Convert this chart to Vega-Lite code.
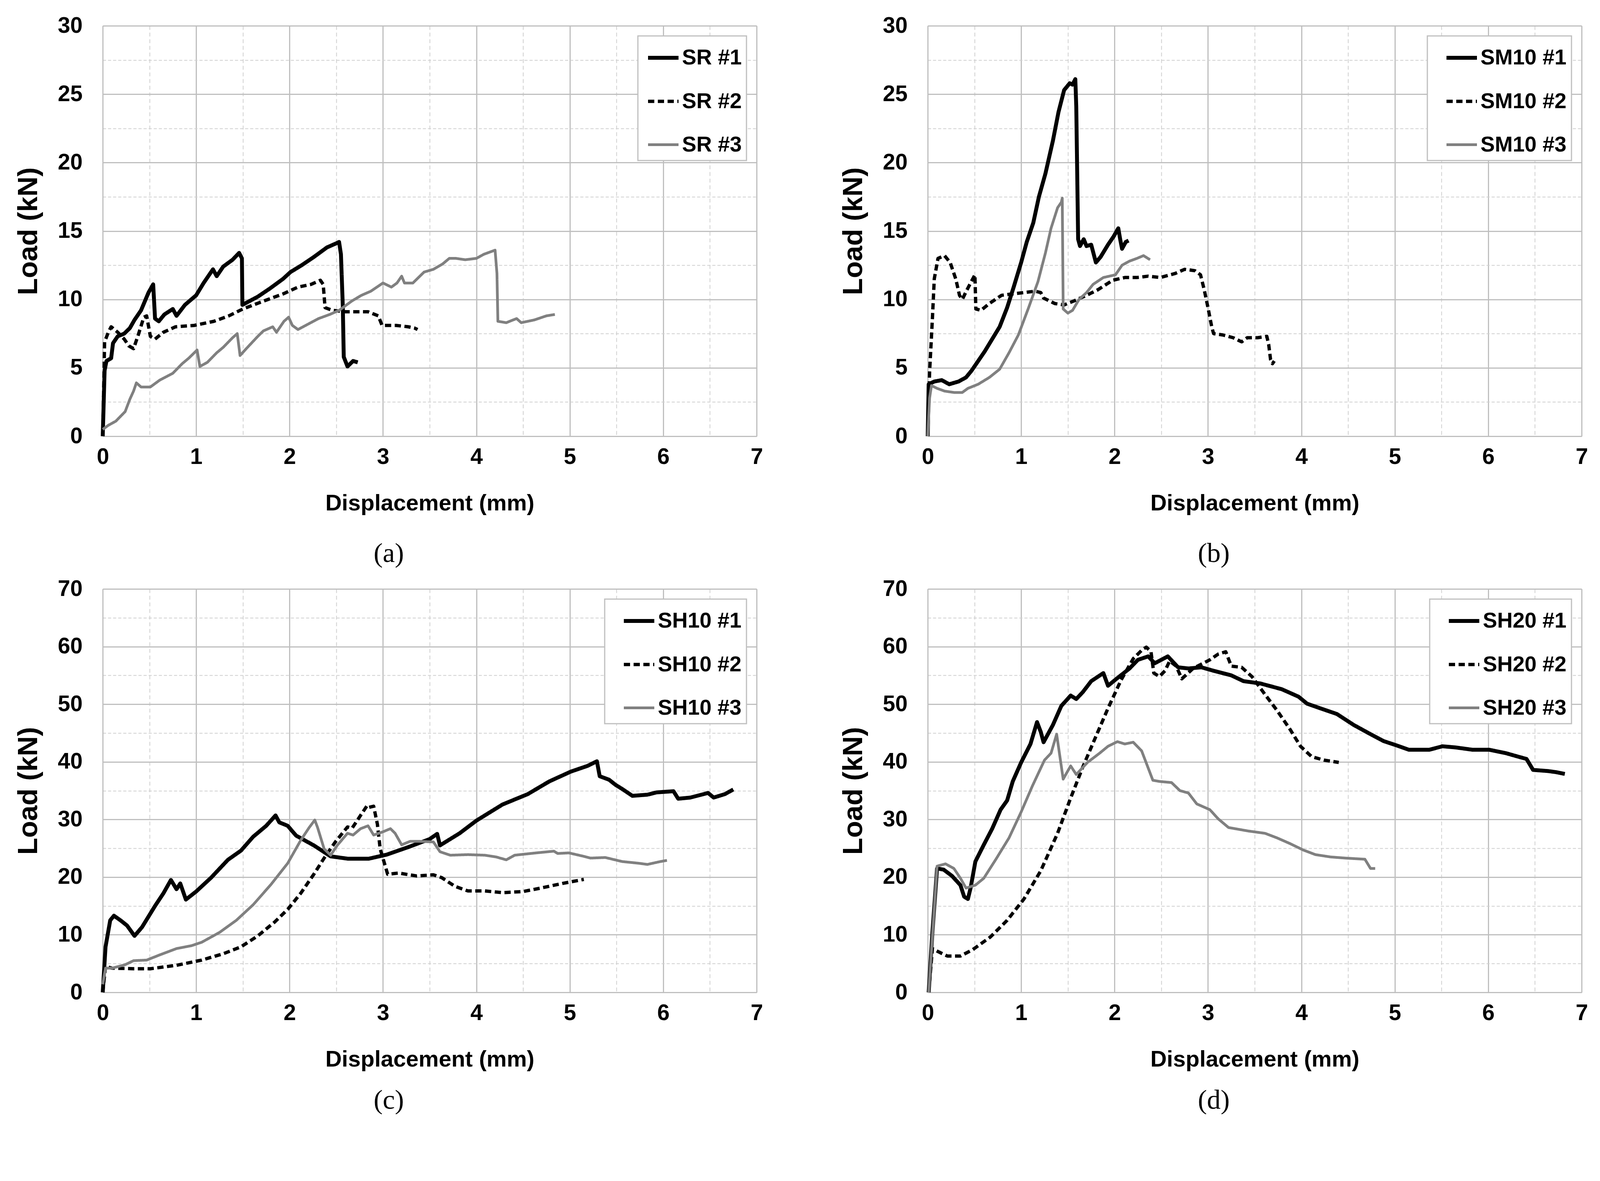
{
  "$schema": "https://vega.github.io/schema/vega-lite/v6.json",
  "background": "white",
  "padding": {"left": 37, "top": 37, "right": 0, "bottom": 0},
  "columns": 2,
  "spacing": {"row": 26, "column": 196},
  "datasets": {
    "a": [
      {"s":"SR #1","x":0,"y":0},{"s":"SR #1","x":0.02,"y":4.8},{"s":"SR #1","x":0.04,"y":5.5},{"s":"SR #1","x":0.09,"y":5.7},{"s":"SR #1","x":0.11,"y":6.8},{"s":"SR #1","x":0.16,"y":7.3},{"s":"SR #1","x":0.23,"y":7.5},{"s":"SR #1","x":0.29,"y":7.9},{"s":"SR #1","x":0.34,"y":8.5},{"s":"SR #1","x":0.41,"y":9.2},{"s":"SR #1","x":0.49,"y":10.5},{"s":"SR #1","x":0.54,"y":11.1},{"s":"SR #1","x":0.56,"y":8.6},{"s":"SR #1","x":0.6,"y":8.4},{"s":"SR #1","x":0.66,"y":8.9},{"s":"SR #1","x":0.75,"y":9.3},{"s":"SR #1","x":0.79,"y":8.8},{"s":"SR #1","x":0.88,"y":9.6},{"s":"SR #1","x":1.0,"y":10.3},{"s":"SR #1","x":1.08,"y":11.2},{"s":"SR #1","x":1.12,"y":11.6},{"s":"SR #1","x":1.18,"y":12.2},{"s":"SR #1","x":1.22,"y":11.7},{"s":"SR #1","x":1.29,"y":12.4},{"s":"SR #1","x":1.39,"y":12.9},{"s":"SR #1","x":1.46,"y":13.4},{"s":"SR #1","x":1.49,"y":13.0},{"s":"SR #1","x":1.495,"y":9.6},{"s":"SR #1","x":1.55,"y":9.8},{"s":"SR #1","x":1.66,"y":10.2},{"s":"SR #1","x":1.79,"y":10.8},{"s":"SR #1","x":1.93,"y":11.5},{"s":"SR #1","x":2.01,"y":12.0},{"s":"SR #1","x":2.13,"y":12.5},{"s":"SR #1","x":2.26,"y":13.1},{"s":"SR #1","x":2.4,"y":13.8},{"s":"SR #1","x":2.5,"y":14.1},{"s":"SR #1","x":2.53,"y":14.2},{"s":"SR #1","x":2.55,"y":13.3},{"s":"SR #1","x":2.57,"y":9.5},{"s":"SR #1","x":2.58,"y":5.8},{"s":"SR #1","x":2.62,"y":5.1},{"s":"SR #1","x":2.68,"y":5.5},{"s":"SR #1","x":2.73,"y":5.4},
      {"s":"SR #2","x":0,"y":0},{"s":"SR #2","x":0.02,"y":6.9},{"s":"SR #2","x":0.06,"y":7.6},{"s":"SR #2","x":0.09,"y":8.0},{"s":"SR #2","x":0.16,"y":7.6},{"s":"SR #2","x":0.23,"y":7.1},{"s":"SR #2","x":0.28,"y":6.6},{"s":"SR #2","x":0.33,"y":6.4},{"s":"SR #2","x":0.38,"y":7.4},{"s":"SR #2","x":0.44,"y":8.7},{"s":"SR #2","x":0.47,"y":8.8},{"s":"SR #2","x":0.51,"y":7.3},{"s":"SR #2","x":0.56,"y":7.1},{"s":"SR #2","x":0.65,"y":7.6},{"s":"SR #2","x":0.78,"y":8.0},{"s":"SR #2","x":0.98,"y":8.1},{"s":"SR #2","x":1.19,"y":8.4},{"s":"SR #2","x":1.35,"y":8.8},{"s":"SR #2","x":1.5,"y":9.3},{"s":"SR #2","x":1.69,"y":9.8},{"s":"SR #2","x":1.93,"y":10.4},{"s":"SR #2","x":2.09,"y":10.9},{"s":"SR #2","x":2.23,"y":11.1},{"s":"SR #2","x":2.33,"y":11.4},{"s":"SR #2","x":2.36,"y":11.1},{"s":"SR #2","x":2.38,"y":9.4},{"s":"SR #2","x":2.46,"y":9.2},{"s":"SR #2","x":2.6,"y":9.1},{"s":"SR #2","x":2.84,"y":9.1},{"s":"SR #2","x":2.95,"y":8.8},{"s":"SR #2","x":2.99,"y":8.1},{"s":"SR #2","x":3.14,"y":8.1},{"s":"SR #2","x":3.27,"y":8.0},{"s":"SR #2","x":3.34,"y":7.9},{"s":"SR #2","x":3.37,"y":7.8},
      {"s":"SR #3","x":0,"y":0.5},{"s":"SR #3","x":0.06,"y":0.8},{"s":"SR #3","x":0.14,"y":1.1},{"s":"SR #3","x":0.24,"y":1.8},{"s":"SR #3","x":0.29,"y":2.7},{"s":"SR #3","x":0.33,"y":3.3},{"s":"SR #3","x":0.36,"y":3.9},{"s":"SR #3","x":0.41,"y":3.6},{"s":"SR #3","x":0.51,"y":3.6},{"s":"SR #3","x":0.61,"y":4.1},{"s":"SR #3","x":0.75,"y":4.6},{"s":"SR #3","x":0.85,"y":5.3},{"s":"SR #3","x":0.92,"y":5.7},{"s":"SR #3","x":0.98,"y":6.1},{"s":"SR #3","x":1.01,"y":6.3},{"s":"SR #3","x":1.04,"y":5.1},{"s":"SR #3","x":1.12,"y":5.4},{"s":"SR #3","x":1.22,"y":6.1},{"s":"SR #3","x":1.29,"y":6.5},{"s":"SR #3","x":1.39,"y":7.2},{"s":"SR #3","x":1.44,"y":7.5},{"s":"SR #3","x":1.47,"y":5.9},{"s":"SR #3","x":1.55,"y":6.5},{"s":"SR #3","x":1.66,"y":7.3},{"s":"SR #3","x":1.72,"y":7.7},{"s":"SR #3","x":1.82,"y":8.0},{"s":"SR #3","x":1.86,"y":7.6},{"s":"SR #3","x":1.94,"y":8.4},{"s":"SR #3","x":1.99,"y":8.7},{"s":"SR #3","x":2.03,"y":8.1},{"s":"SR #3","x":2.09,"y":7.8},{"s":"SR #3","x":2.2,"y":8.2},{"s":"SR #3","x":2.31,"y":8.6},{"s":"SR #3","x":2.43,"y":8.9},{"s":"SR #3","x":2.53,"y":9.2},{"s":"SR #3","x":2.67,"y":9.9},{"s":"SR #3","x":2.77,"y":10.3},{"s":"SR #3","x":2.87,"y":10.6},{"s":"SR #3","x":3.0,"y":11.2},{"s":"SR #3","x":3.09,"y":10.9},{"s":"SR #3","x":3.15,"y":11.2},{"s":"SR #3","x":3.2,"y":11.7},{"s":"SR #3","x":3.23,"y":11.2},{"s":"SR #3","x":3.32,"y":11.2},{"s":"SR #3","x":3.44,"y":12.0},{"s":"SR #3","x":3.54,"y":12.2},{"s":"SR #3","x":3.64,"y":12.6},{"s":"SR #3","x":3.71,"y":13.0},{"s":"SR #3","x":3.78,"y":13.0},{"s":"SR #3","x":3.88,"y":12.9},{"s":"SR #3","x":4.0,"y":13.0},{"s":"SR #3","x":4.08,"y":13.3},{"s":"SR #3","x":4.2,"y":13.6},{"s":"SR #3","x":4.22,"y":11.9},{"s":"SR #3","x":4.23,"y":8.4},{"s":"SR #3","x":4.32,"y":8.3},{"s":"SR #3","x":4.43,"y":8.6},{"s":"SR #3","x":4.48,"y":8.3},{"s":"SR #3","x":4.62,"y":8.5},{"s":"SR #3","x":4.75,"y":8.8},{"s":"SR #3","x":4.84,"y":8.9}
    ],
    "b": [
      {"s":"SM10 #1","x":0.0,"y":0},{"s":"SM10 #1","x":0.01,"y":3.8},{"s":"SM10 #1","x":0.07,"y":4.0},{"s":"SM10 #1","x":0.15,"y":4.1},{"s":"SM10 #1","x":0.23,"y":3.8},{"s":"SM10 #1","x":0.33,"y":4.0},{"s":"SM10 #1","x":0.41,"y":4.3},{"s":"SM10 #1","x":0.47,"y":4.8},{"s":"SM10 #1","x":0.54,"y":5.5},{"s":"SM10 #1","x":0.61,"y":6.2},{"s":"SM10 #1","x":0.69,"y":7.1},{"s":"SM10 #1","x":0.77,"y":8.0},{"s":"SM10 #1","x":0.85,"y":9.4},{"s":"SM10 #1","x":0.92,"y":10.9},{"s":"SM10 #1","x":1.0,"y":12.7},{"s":"SM10 #1","x":1.06,"y":14.2},{"s":"SM10 #1","x":1.13,"y":15.6},{"s":"SM10 #1","x":1.19,"y":17.5},{"s":"SM10 #1","x":1.26,"y":19.2},{"s":"SM10 #1","x":1.34,"y":21.6},{"s":"SM10 #1","x":1.4,"y":23.7},{"s":"SM10 #1","x":1.46,"y":25.3},{"s":"SM10 #1","x":1.52,"y":25.8},{"s":"SM10 #1","x":1.55,"y":25.7},{"s":"SM10 #1","x":1.58,"y":26.1},{"s":"SM10 #1","x":1.59,"y":24.1},{"s":"SM10 #1","x":1.61,"y":14.4},{"s":"SM10 #1","x":1.63,"y":13.9},{"s":"SM10 #1","x":1.67,"y":14.4},{"s":"SM10 #1","x":1.7,"y":13.9},{"s":"SM10 #1","x":1.75,"y":14.0},{"s":"SM10 #1","x":1.8,"y":12.7},{"s":"SM10 #1","x":1.85,"y":13.1},{"s":"SM10 #1","x":1.93,"y":14.0},{"s":"SM10 #1","x":1.99,"y":14.6},{"s":"SM10 #1","x":2.04,"y":15.2},{"s":"SM10 #1","x":2.06,"y":14.4},{"s":"SM10 #1","x":2.08,"y":13.7},{"s":"SM10 #1","x":2.12,"y":14.2},{"s":"SM10 #1","x":2.15,"y":14.3},
      {"s":"SM10 #2","x":0,"y":0},{"s":"SM10 #2","x":0.02,"y":4.7},{"s":"SM10 #2","x":0.05,"y":8.6},{"s":"SM10 #2","x":0.07,"y":11.5},{"s":"SM10 #2","x":0.11,"y":13.0},{"s":"SM10 #2","x":0.18,"y":13.2},{"s":"SM10 #2","x":0.24,"y":12.7},{"s":"SM10 #2","x":0.3,"y":11.5},{"s":"SM10 #2","x":0.34,"y":10.3},{"s":"SM10 #2","x":0.37,"y":10.0},{"s":"SM10 #2","x":0.42,"y":10.7},{"s":"SM10 #2","x":0.505,"y":11.8},{"s":"SM10 #2","x":0.515,"y":9.3},{"s":"SM10 #2","x":0.57,"y":9.2},{"s":"SM10 #2","x":0.66,"y":9.7},{"s":"SM10 #2","x":0.79,"y":10.3},{"s":"SM10 #2","x":0.9,"y":10.4},{"s":"SM10 #2","x":1.03,"y":10.5},{"s":"SM10 #2","x":1.15,"y":10.6},{"s":"SM10 #2","x":1.21,"y":10.5},{"s":"SM10 #2","x":1.24,"y":10.1},{"s":"SM10 #2","x":1.36,"y":9.7},{"s":"SM10 #2","x":1.46,"y":9.6},{"s":"SM10 #2","x":1.57,"y":9.9},{"s":"SM10 #2","x":1.7,"y":10.3},{"s":"SM10 #2","x":1.82,"y":10.7},{"s":"SM10 #2","x":1.98,"y":11.4},{"s":"SM10 #2","x":2.11,"y":11.6},{"s":"SM10 #2","x":2.24,"y":11.6},{"s":"SM10 #2","x":2.36,"y":11.7},{"s":"SM10 #2","x":2.49,"y":11.6},{"s":"SM10 #2","x":2.65,"y":11.9},{"s":"SM10 #2","x":2.75,"y":12.2},{"s":"SM10 #2","x":2.86,"y":12.1},{"s":"SM10 #2","x":2.92,"y":11.8},{"s":"SM10 #2","x":2.96,"y":10.7},{"s":"SM10 #2","x":3.0,"y":9.4},{"s":"SM10 #2","x":3.04,"y":8.0},{"s":"SM10 #2","x":3.06,"y":7.5},{"s":"SM10 #2","x":3.16,"y":7.4},{"s":"SM10 #2","x":3.27,"y":7.2},{"s":"SM10 #2","x":3.36,"y":6.9},{"s":"SM10 #2","x":3.42,"y":7.2},{"s":"SM10 #2","x":3.53,"y":7.2},{"s":"SM10 #2","x":3.63,"y":7.3},{"s":"SM10 #2","x":3.65,"y":6.7},{"s":"SM10 #2","x":3.67,"y":5.6},{"s":"SM10 #2","x":3.69,"y":5.3},{"s":"SM10 #2","x":3.71,"y":5.5},
      {"s":"SM10 #3","x":0,"y":0},{"s":"SM10 #3","x":0.02,"y":2.8},{"s":"SM10 #3","x":0.04,"y":3.7},{"s":"SM10 #3","x":0.1,"y":3.5},{"s":"SM10 #3","x":0.18,"y":3.3},{"s":"SM10 #3","x":0.28,"y":3.2},{"s":"SM10 #3","x":0.37,"y":3.2},{"s":"SM10 #3","x":0.43,"y":3.5},{"s":"SM10 #3","x":0.54,"y":3.8},{"s":"SM10 #3","x":0.66,"y":4.3},{"s":"SM10 #3","x":0.77,"y":4.9},{"s":"SM10 #3","x":0.87,"y":6.1},{"s":"SM10 #3","x":0.97,"y":7.4},{"s":"SM10 #3","x":1.08,"y":9.4},{"s":"SM10 #3","x":1.18,"y":11.3},{"s":"SM10 #3","x":1.26,"y":13.4},{"s":"SM10 #3","x":1.32,"y":15.2},{"s":"SM10 #3","x":1.39,"y":16.7},{"s":"SM10 #3","x":1.43,"y":17.1},{"s":"SM10 #3","x":1.44,"y":17.4},{"s":"SM10 #3","x":1.45,"y":9.3},{"s":"SM10 #3","x":1.5,"y":9.0},{"s":"SM10 #3","x":1.55,"y":9.2},{"s":"SM10 #3","x":1.62,"y":10.0},{"s":"SM10 #3","x":1.7,"y":10.5},{"s":"SM10 #3","x":1.77,"y":11.1},{"s":"SM10 #3","x":1.88,"y":11.6},{"s":"SM10 #3","x":2.01,"y":11.8},{"s":"SM10 #3","x":2.08,"y":12.5},{"s":"SM10 #3","x":2.16,"y":12.8},{"s":"SM10 #3","x":2.24,"y":13.0},{"s":"SM10 #3","x":2.31,"y":13.2},{"s":"SM10 #3","x":2.38,"y":12.9}
    ],
    "c": [
      {"s":"SH10 #1","x":0,"y":0},{"s":"SH10 #1","x":0.03,"y":7.9},{"s":"SH10 #1","x":0.08,"y":12.5},{"s":"SH10 #1","x":0.12,"y":13.3},{"s":"SH10 #1","x":0.19,"y":12.5},{"s":"SH10 #1","x":0.26,"y":11.6},{"s":"SH10 #1","x":0.34,"y":9.8},{"s":"SH10 #1","x":0.42,"y":11.3},{"s":"SH10 #1","x":0.56,"y":15.0},{"s":"SH10 #1","x":0.65,"y":17.2},{"s":"SH10 #1","x":0.73,"y":19.5},{"s":"SH10 #1","x":0.79,"y":17.9},{"s":"SH10 #1","x":0.83,"y":18.9},{"s":"SH10 #1","x":0.89,"y":16.1},{"s":"SH10 #1","x":1.0,"y":17.5},{"s":"SH10 #1","x":1.16,"y":19.9},{"s":"SH10 #1","x":1.34,"y":23.0},{"s":"SH10 #1","x":1.48,"y":24.6},{"s":"SH10 #1","x":1.61,"y":27.0},{"s":"SH10 #1","x":1.75,"y":28.9},{"s":"SH10 #1","x":1.85,"y":30.7},{"s":"SH10 #1","x":1.89,"y":29.5},{"s":"SH10 #1","x":1.98,"y":28.9},{"s":"SH10 #1","x":2.07,"y":27.2},{"s":"SH10 #1","x":2.26,"y":25.5},{"s":"SH10 #1","x":2.44,"y":23.6},{"s":"SH10 #1","x":2.62,"y":23.2},{"s":"SH10 #1","x":2.85,"y":23.2},{"s":"SH10 #1","x":3.04,"y":23.9},{"s":"SH10 #1","x":3.27,"y":25.2},{"s":"SH10 #1","x":3.5,"y":26.6},{"s":"SH10 #1","x":3.58,"y":27.5},{"s":"SH10 #1","x":3.61,"y":25.5},{"s":"SH10 #1","x":3.82,"y":27.6},{"s":"SH10 #1","x":4.0,"y":29.8},{"s":"SH10 #1","x":4.28,"y":32.6},{"s":"SH10 #1","x":4.55,"y":34.4},{"s":"SH10 #1","x":4.78,"y":36.6},{"s":"SH10 #1","x":5.01,"y":38.3},{"s":"SH10 #1","x":5.19,"y":39.3},{"s":"SH10 #1","x":5.29,"y":40.1},{"s":"SH10 #1","x":5.32,"y":37.5},{"s":"SH10 #1","x":5.42,"y":36.9},{"s":"SH10 #1","x":5.49,"y":36.0},{"s":"SH10 #1","x":5.56,"y":35.3},{"s":"SH10 #1","x":5.67,"y":34.1},{"s":"SH10 #1","x":5.83,"y":34.3},{"s":"SH10 #1","x":5.93,"y":34.7},{"s":"SH10 #1","x":6.11,"y":34.9},{"s":"SH10 #1","x":6.16,"y":33.6},{"s":"SH10 #1","x":6.29,"y":33.8},{"s":"SH10 #1","x":6.48,"y":34.6},{"s":"SH10 #1","x":6.54,"y":33.8},{"s":"SH10 #1","x":6.66,"y":34.4},{"s":"SH10 #1","x":6.75,"y":35.2},
      {"s":"SH10 #2","x":0,"y":0},{"s":"SH10 #2","x":0.03,"y":4.5},{"s":"SH10 #2","x":0.1,"y":4.2},{"s":"SH10 #2","x":0.33,"y":4.1},{"s":"SH10 #2","x":0.51,"y":4.1},{"s":"SH10 #2","x":0.79,"y":4.7},{"s":"SH10 #2","x":1.06,"y":5.6},{"s":"SH10 #2","x":1.29,"y":6.7},{"s":"SH10 #2","x":1.48,"y":7.9},{"s":"SH10 #2","x":1.66,"y":9.8},{"s":"SH10 #2","x":1.84,"y":12.2},{"s":"SH10 #2","x":1.98,"y":14.4},{"s":"SH10 #2","x":2.12,"y":17.2},{"s":"SH10 #2","x":2.26,"y":20.5},{"s":"SH10 #2","x":2.37,"y":23.3},{"s":"SH10 #2","x":2.49,"y":26.1},{"s":"SH10 #2","x":2.58,"y":27.9},{"s":"SH10 #2","x":2.62,"y":28.7},{"s":"SH10 #2","x":2.67,"y":28.5},{"s":"SH10 #2","x":2.76,"y":30.7},{"s":"SH10 #2","x":2.83,"y":32.4},{"s":"SH10 #2","x":2.85,"y":32.1},{"s":"SH10 #2","x":2.9,"y":32.3},{"s":"SH10 #2","x":2.94,"y":29.2},{"s":"SH10 #2","x":2.97,"y":24.9},{"s":"SH10 #2","x":3.01,"y":22.7},{"s":"SH10 #2","x":3.05,"y":20.5},{"s":"SH10 #2","x":3.17,"y":20.7},{"s":"SH10 #2","x":3.36,"y":20.2},{"s":"SH10 #2","x":3.54,"y":20.4},{"s":"SH10 #2","x":3.63,"y":19.9},{"s":"SH10 #2","x":3.77,"y":18.4},{"s":"SH10 #2","x":3.91,"y":17.6},{"s":"SH10 #2","x":4.09,"y":17.6},{"s":"SH10 #2","x":4.28,"y":17.3},{"s":"SH10 #2","x":4.5,"y":17.5},{"s":"SH10 #2","x":4.69,"y":18.1},{"s":"SH10 #2","x":4.92,"y":18.9},{"s":"SH10 #2","x":5.15,"y":19.6},
      {"s":"SH10 #3","x":0,"y":1.4},{"s":"SH10 #3","x":0.03,"y":4.2},{"s":"SH10 #3","x":0.1,"y":4.2},{"s":"SH10 #3","x":0.24,"y":4.8},{"s":"SH10 #3","x":0.33,"y":5.5},{"s":"SH10 #3","x":0.47,"y":5.6},{"s":"SH10 #3","x":0.61,"y":6.5},{"s":"SH10 #3","x":0.79,"y":7.6},{"s":"SH10 #3","x":0.95,"y":8.1},{"s":"SH10 #3","x":1.06,"y":8.7},{"s":"SH10 #3","x":1.25,"y":10.4},{"s":"SH10 #3","x":1.43,"y":12.5},{"s":"SH10 #3","x":1.61,"y":15.2},{"s":"SH10 #3","x":1.8,"y":18.7},{"s":"SH10 #3","x":1.98,"y":22.4},{"s":"SH10 #3","x":2.12,"y":26.4},{"s":"SH10 #3","x":2.21,"y":28.6},{"s":"SH10 #3","x":2.27,"y":29.9},{"s":"SH10 #3","x":2.3,"y":28.6},{"s":"SH10 #3","x":2.37,"y":24.9},{"s":"SH10 #3","x":2.44,"y":23.8},{"s":"SH10 #3","x":2.51,"y":25.5},{"s":"SH10 #3","x":2.62,"y":27.6},{"s":"SH10 #3","x":2.68,"y":27.3},{"s":"SH10 #3","x":2.76,"y":28.4},{"s":"SH10 #3","x":2.84,"y":28.9},{"s":"SH10 #3","x":2.9,"y":27.3},{"s":"SH10 #3","x":2.99,"y":27.8},{"s":"SH10 #3","x":3.08,"y":28.4},{"s":"SH10 #3","x":3.13,"y":27.6},{"s":"SH10 #3","x":3.2,"y":25.6},{"s":"SH10 #3","x":3.29,"y":26.2},{"s":"SH10 #3","x":3.4,"y":26.2},{"s":"SH10 #3","x":3.54,"y":26.1},{"s":"SH10 #3","x":3.61,"y":24.4},{"s":"SH10 #3","x":3.72,"y":23.8},{"s":"SH10 #3","x":3.91,"y":23.9},{"s":"SH10 #3","x":4.09,"y":23.8},{"s":"SH10 #3","x":4.21,"y":23.5},{"s":"SH10 #3","x":4.32,"y":23.0},{"s":"SH10 #3","x":4.41,"y":23.8},{"s":"SH10 #3","x":4.64,"y":24.2},{"s":"SH10 #3","x":4.83,"y":24.5},{"s":"SH10 #3","x":4.87,"y":24.1},{"s":"SH10 #3","x":4.99,"y":24.2},{"s":"SH10 #3","x":5.15,"y":23.6},{"s":"SH10 #3","x":5.22,"y":23.3},{"s":"SH10 #3","x":5.38,"y":23.4},{"s":"SH10 #3","x":5.56,"y":22.7},{"s":"SH10 #3","x":5.74,"y":22.4},{"s":"SH10 #3","x":5.83,"y":22.2},{"s":"SH10 #3","x":5.97,"y":22.7},{"s":"SH10 #3","x":6.04,"y":22.9}
    ],
    "d": [
      {"s":"SH20 #1","x":0.01,"y":0},{"s":"SH20 #1","x":0.05,"y":10.4},{"s":"SH20 #1","x":0.1,"y":21.5},{"s":"SH20 #1","x":0.17,"y":21.3},{"s":"SH20 #1","x":0.26,"y":20.2},{"s":"SH20 #1","x":0.35,"y":18.6},{"s":"SH20 #1","x":0.39,"y":16.6},{"s":"SH20 #1","x":0.43,"y":16.2},{"s":"SH20 #1","x":0.46,"y":18.2},{"s":"SH20 #1","x":0.51,"y":22.7},{"s":"SH20 #1","x":0.6,"y":25.6},{"s":"SH20 #1","x":0.69,"y":28.4},{"s":"SH20 #1","x":0.78,"y":31.7},{"s":"SH20 #1","x":0.85,"y":33.3},{"s":"SH20 #1","x":0.91,"y":36.6},{"s":"SH20 #1","x":1.0,"y":39.9},{"s":"SH20 #1","x":1.1,"y":43.1},{"s":"SH20 #1","x":1.17,"y":46.9},{"s":"SH20 #1","x":1.21,"y":45.2},{"s":"SH20 #1","x":1.24,"y":43.4},{"s":"SH20 #1","x":1.34,"y":46.4},{"s":"SH20 #1","x":1.43,"y":49.7},{"s":"SH20 #1","x":1.53,"y":51.5},{"s":"SH20 #1","x":1.59,"y":50.9},{"s":"SH20 #1","x":1.66,"y":52.1},{"s":"SH20 #1","x":1.75,"y":54.0},{"s":"SH20 #1","x":1.88,"y":55.4},{"s":"SH20 #1","x":1.93,"y":53.2},{"s":"SH20 #1","x":2.02,"y":54.4},{"s":"SH20 #1","x":2.16,"y":56.2},{"s":"SH20 #1","x":2.25,"y":57.7},{"s":"SH20 #1","x":2.36,"y":58.3},{"s":"SH20 #1","x":2.43,"y":57.1},{"s":"SH20 #1","x":2.57,"y":58.3},{"s":"SH20 #1","x":2.68,"y":56.4},{"s":"SH20 #1","x":2.79,"y":56.2},{"s":"SH20 #1","x":2.93,"y":56.4},{"s":"SH20 #1","x":3.06,"y":55.8},{"s":"SH20 #1","x":3.25,"y":55.0},{"s":"SH20 #1","x":3.38,"y":54.0},{"s":"SH20 #1","x":3.56,"y":53.6},{"s":"SH20 #1","x":3.79,"y":52.6},{"s":"SH20 #1","x":3.97,"y":51.3},{"s":"SH20 #1","x":4.06,"y":50.1},{"s":"SH20 #1","x":4.2,"y":49.3},{"s":"SH20 #1","x":4.38,"y":48.3},{"s":"SH20 #1","x":4.56,"y":46.4},{"s":"SH20 #1","x":4.74,"y":44.8},{"s":"SH20 #1","x":4.88,"y":43.6},{"s":"SH20 #1","x":5.01,"y":42.9},{"s":"SH20 #1","x":5.15,"y":42.1},{"s":"SH20 #1","x":5.37,"y":42.1},{"s":"SH20 #1","x":5.51,"y":42.7},{"s":"SH20 #1","x":5.65,"y":42.5},{"s":"SH20 #1","x":5.83,"y":42.1},{"s":"SH20 #1","x":6.01,"y":42.1},{"s":"SH20 #1","x":6.19,"y":41.5},{"s":"SH20 #1","x":6.32,"y":40.9},{"s":"SH20 #1","x":6.41,"y":40.5},{"s":"SH20 #1","x":6.48,"y":38.6},{"s":"SH20 #1","x":6.64,"y":38.4},{"s":"SH20 #1","x":6.73,"y":38.2},{"s":"SH20 #1","x":6.82,"y":37.9},
      {"s":"SH20 #2","x":0.01,"y":0},{"s":"SH20 #2","x":0.05,"y":7.6},{"s":"SH20 #2","x":0.12,"y":7.0},{"s":"SH20 #2","x":0.21,"y":6.3},{"s":"SH20 #2","x":0.35,"y":6.3},{"s":"SH20 #2","x":0.48,"y":7.4},{"s":"SH20 #2","x":0.67,"y":9.6},{"s":"SH20 #2","x":0.85,"y":12.5},{"s":"SH20 #2","x":1.03,"y":16.2},{"s":"SH20 #2","x":1.21,"y":21.1},{"s":"SH20 #2","x":1.39,"y":27.6},{"s":"SH20 #2","x":1.52,"y":33.3},{"s":"SH20 #2","x":1.66,"y":39.1},{"s":"SH20 #2","x":1.8,"y":44.4},{"s":"SH20 #2","x":1.93,"y":49.3},{"s":"SH20 #2","x":2.07,"y":54.2},{"s":"SH20 #2","x":2.2,"y":57.9},{"s":"SH20 #2","x":2.3,"y":59.5},{"s":"SH20 #2","x":2.34,"y":59.9},{"s":"SH20 #2","x":2.39,"y":59.1},{"s":"SH20 #2","x":2.42,"y":55.4},{"s":"SH20 #2","x":2.48,"y":54.8},{"s":"SH20 #2","x":2.54,"y":55.8},{"s":"SH20 #2","x":2.59,"y":57.5},{"s":"SH20 #2","x":2.66,"y":56.6},{"s":"SH20 #2","x":2.72,"y":54.4},{"s":"SH20 #2","x":2.84,"y":56.2},{"s":"SH20 #2","x":3.02,"y":57.7},{"s":"SH20 #2","x":3.11,"y":58.7},{"s":"SH20 #2","x":3.19,"y":59.1},{"s":"SH20 #2","x":3.25,"y":56.6},{"s":"SH20 #2","x":3.36,"y":56.4},{"s":"SH20 #2","x":3.47,"y":54.8},{"s":"SH20 #2","x":3.61,"y":51.7},{"s":"SH20 #2","x":3.74,"y":48.9},{"s":"SH20 #2","x":3.88,"y":45.6},{"s":"SH20 #2","x":3.99,"y":42.7},{"s":"SH20 #2","x":4.11,"y":40.9},{"s":"SH20 #2","x":4.24,"y":40.3},{"s":"SH20 #2","x":4.4,"y":39.9},
      {"s":"SH20 #3","x":0.01,"y":0},{"s":"SH20 #3","x":0.1,"y":21.9},{"s":"SH20 #3","x":0.19,"y":22.3},{"s":"SH20 #3","x":0.28,"y":21.5},{"s":"SH20 #3","x":0.35,"y":19.8},{"s":"SH20 #3","x":0.41,"y":18.1},{"s":"SH20 #3","x":0.51,"y":18.6},{"s":"SH20 #3","x":0.6,"y":19.8},{"s":"SH20 #3","x":0.73,"y":23.1},{"s":"SH20 #3","x":0.87,"y":26.8},{"s":"SH20 #3","x":1.0,"y":31.3},{"s":"SH20 #3","x":1.12,"y":35.8},{"s":"SH20 #3","x":1.25,"y":40.3},{"s":"SH20 #3","x":1.32,"y":41.5},{"s":"SH20 #3","x":1.38,"y":44.8},{"s":"SH20 #3","x":1.45,"y":37.0},{"s":"SH20 #3","x":1.53,"y":39.3},{"s":"SH20 #3","x":1.59,"y":37.8},{"s":"SH20 #3","x":1.71,"y":39.9},{"s":"SH20 #3","x":1.84,"y":41.5},{"s":"SH20 #3","x":1.93,"y":42.7},{"s":"SH20 #3","x":2.03,"y":43.5},{"s":"SH20 #3","x":2.11,"y":43.1},{"s":"SH20 #3","x":2.2,"y":43.4},{"s":"SH20 #3","x":2.29,"y":41.9},{"s":"SH20 #3","x":2.41,"y":36.8},{"s":"SH20 #3","x":2.48,"y":36.6},{"s":"SH20 #3","x":2.61,"y":36.4},{"s":"SH20 #3","x":2.7,"y":35.0},{"s":"SH20 #3","x":2.79,"y":34.6},{"s":"SH20 #3","x":2.88,"y":32.7},{"s":"SH20 #3","x":3.02,"y":31.7},{"s":"SH20 #3","x":3.11,"y":30.1},{"s":"SH20 #3","x":3.22,"y":28.6},{"s":"SH20 #3","x":3.43,"y":28.0},{"s":"SH20 #3","x":3.61,"y":27.6},{"s":"SH20 #3","x":3.74,"y":26.8},{"s":"SH20 #3","x":3.88,"y":25.8},{"s":"SH20 #3","x":4.02,"y":24.7},{"s":"SH20 #3","x":4.15,"y":23.9},{"s":"SH20 #3","x":4.31,"y":23.5},{"s":"SH20 #3","x":4.47,"y":23.3},{"s":"SH20 #3","x":4.68,"y":23.1},{"s":"SH20 #3","x":4.74,"y":21.5},{"s":"SH20 #3","x":4.79,"y":21.5}
    ]
  },
  "concat": [
    {
      "title": {"text": "(a)", "offset": 66},
      "width": 1674, "height": 1051,
      "data": {"name": "a"},
      "mark": {"type": "line", "strokeJoin": "round", "strokeCap": "butt"},
      "encoding": {
        "x": {"field": "x", "type": "quantitative", "title": "Displacement (mm)", "scale": {"domain": [0, 7], "nice": false},
          "axis": {"values": [0,0.5,1,1.5,2,2.5,3,3.5,4,4.5,5,5.5,6,6.5,7], "labelExpr": "datum.value % 1 === 0 ? format(datum.value, 'd') : ''",
            "gridDash": {"condition": {"test": "datum.value % 1 !== 0", "value": [10, 7]}, "value": []},
            "gridColor": {"condition": {"test": "datum.value % 1 !== 0", "value": "#cfcfcf"}, "value": "#bfbfbf"},
            "gridWidth": {"condition": {"test": "datum.value % 1 !== 0", "value": 2}, "value": 3}}},
        "y": {"field": "y", "type": "quantitative", "title": "Load (kN)", "scale": {"domain": [0, 30], "nice": false},
          "axis": {"values": [0,2.5,5,7.5,10,12.5,15,17.5,20,22.5,25,27.5,30], "labelExpr": "datum.value % 5 === 0 ? format(datum.value, 'd') : ''",
            "gridDash": {"condition": {"test": "datum.value % 5 !== 0", "value": [8, 5]}, "value": []},
            "gridColor": {"condition": {"test": "datum.value % 5 !== 0", "value": "#cfcfcf"}, "value": "#bfbfbf"},
            "gridWidth": {"condition": {"test": "datum.value % 5 !== 0", "value": 2}, "value": 3}}},
        "color": {"field": "s", "type": "nominal", "scale": {"domain": ["SR #1", "SR #2", "SR #3"], "range": ["#000000", "#000000", "#808080"]}, "legend": {"symbolOffset": 9}},
        "strokeDash": {"field": "s", "type": "nominal", "scale": {"domain": ["SR #1", "SR #2", "SR #3"], "range": [[1, 0], [16, 9], [1, 0]]}},
        "strokeWidth": {"field": "s", "type": "nominal", "scale": {"domain": ["SR #1", "SR #2", "SR #3"], "range": [10, 7, 4.5]}},
        "order": {"value": null}
      }
    },
    {
      "title": {"text": "(b)", "offset": 66},
      "width": 1674, "height": 1051,
      "data": {"name": "b"},
      "mark": {"type": "line", "strokeJoin": "round", "strokeCap": "butt"},
      "encoding": {
        "x": {"field": "x", "type": "quantitative", "title": "Displacement (mm)", "scale": {"domain": [0, 7], "nice": false},
          "axis": {"values": [0,0.5,1,1.5,2,2.5,3,3.5,4,4.5,5,5.5,6,6.5,7], "labelExpr": "datum.value % 1 === 0 ? format(datum.value, 'd') : ''",
            "gridDash": {"condition": {"test": "datum.value % 1 !== 0", "value": [10, 7]}, "value": []},
            "gridColor": {"condition": {"test": "datum.value % 1 !== 0", "value": "#cfcfcf"}, "value": "#bfbfbf"},
            "gridWidth": {"condition": {"test": "datum.value % 1 !== 0", "value": 2}, "value": 3}}},
        "y": {"field": "y", "type": "quantitative", "title": "Load (kN)", "scale": {"domain": [0, 30], "nice": false},
          "axis": {"values": [0,2.5,5,7.5,10,12.5,15,17.5,20,22.5,25,27.5,30], "labelExpr": "datum.value % 5 === 0 ? format(datum.value, 'd') : ''",
            "gridDash": {"condition": {"test": "datum.value % 5 !== 0", "value": [8, 5]}, "value": []},
            "gridColor": {"condition": {"test": "datum.value % 5 !== 0", "value": "#cfcfcf"}, "value": "#bfbfbf"},
            "gridWidth": {"condition": {"test": "datum.value % 5 !== 0", "value": 2}, "value": 3}}},
        "color": {"field": "s", "type": "nominal", "scale": {"domain": ["SM10 #1", "SM10 #2", "SM10 #3"], "range": ["#000000", "#000000", "#808080"]}, "legend": {"symbolOffset": 32, "labelExpr": "datum.label + '\u00a0\u00a0'"}},
        "strokeDash": {"field": "s", "type": "nominal", "scale": {"domain": ["SM10 #1", "SM10 #2", "SM10 #3"], "range": [[1, 0], [16, 9], [1, 0]]}},
        "strokeWidth": {"field": "s", "type": "nominal", "scale": {"domain": ["SM10 #1", "SM10 #2", "SM10 #3"], "range": [10, 7, 4.5]}},
        "order": {"value": null}
      }
    },
    {
      "title": {"text": "(c)", "offset": 42},
      "width": 1674, "height": 1033,
      "data": {"name": "c"},
      "mark": {"type": "line", "strokeJoin": "round", "strokeCap": "butt"},
      "encoding": {
        "x": {"field": "x", "type": "quantitative", "title": "Displacement (mm)", "scale": {"domain": [0, 7], "nice": false},
          "axis": {"values": [0,0.5,1,1.5,2,2.5,3,3.5,4,4.5,5,5.5,6,6.5,7], "labelExpr": "datum.value % 1 === 0 ? format(datum.value, 'd') : ''",
            "gridDash": {"condition": {"test": "datum.value % 1 !== 0", "value": [10, 7]}, "value": []},
            "gridColor": {"condition": {"test": "datum.value % 1 !== 0", "value": "#cfcfcf"}, "value": "#bfbfbf"},
            "gridWidth": {"condition": {"test": "datum.value % 1 !== 0", "value": 2}, "value": 3}}},
        "y": {"field": "y", "type": "quantitative", "title": "Load (kN)", "scale": {"domain": [0, 70], "nice": false},
          "axis": {"values": [0,5,10,15,20,25,30,35,40,45,50,55,60,65,70], "labelExpr": "datum.value % 10 === 0 ? format(datum.value, 'd') : ''",
            "gridDash": {"condition": {"test": "datum.value % 10 !== 0", "value": [8, 5]}, "value": []},
            "gridColor": {"condition": {"test": "datum.value % 10 !== 0", "value": "#cfcfcf"}, "value": "#bfbfbf"},
            "gridWidth": {"condition": {"test": "datum.value % 10 !== 0", "value": 2}, "value": 3}}},
        "color": {"field": "s", "type": "nominal", "scale": {"domain": ["SH10 #1", "SH10 #2", "SH10 #3"], "range": ["#000000", "#000000", "#808080"]}, "legend": {"symbolOffset": 32, "labelExpr": "datum.label + '\u00a0\u00a0'"}},
        "strokeDash": {"field": "s", "type": "nominal", "scale": {"domain": ["SH10 #1", "SH10 #2", "SH10 #3"], "range": [[1, 0], [16, 9], [1, 0]]}},
        "strokeWidth": {"field": "s", "type": "nominal", "scale": {"domain": ["SH10 #1", "SH10 #2", "SH10 #3"], "range": [10, 7, 4.5]}},
        "order": {"value": null}
      }
    },
    {
      "title": {"text": "(d)", "offset": 42},
      "width": 1674, "height": 1033,
      "data": {"name": "d"},
      "mark": {"type": "line", "strokeJoin": "round", "strokeCap": "butt"},
      "encoding": {
        "x": {"field": "x", "type": "quantitative", "title": "Displacement (mm)", "scale": {"domain": [0, 7], "nice": false},
          "axis": {"values": [0,0.5,1,1.5,2,2.5,3,3.5,4,4.5,5,5.5,6,6.5,7], "labelExpr": "datum.value % 1 === 0 ? format(datum.value, 'd') : ''",
            "gridDash": {"condition": {"test": "datum.value % 1 !== 0", "value": [10, 7]}, "value": []},
            "gridColor": {"condition": {"test": "datum.value % 1 !== 0", "value": "#cfcfcf"}, "value": "#bfbfbf"},
            "gridWidth": {"condition": {"test": "datum.value % 1 !== 0", "value": 2}, "value": 3}}},
        "y": {"field": "y", "type": "quantitative", "title": "Load (kN)", "scale": {"domain": [0, 70], "nice": false},
          "axis": {"values": [0,5,10,15,20,25,30,35,40,45,50,55,60,65,70], "labelExpr": "datum.value % 10 === 0 ? format(datum.value, 'd') : ''",
            "gridDash": {"condition": {"test": "datum.value % 10 !== 0", "value": [8, 5]}, "value": []},
            "gridColor": {"condition": {"test": "datum.value % 10 !== 0", "value": "#cfcfcf"}, "value": "#bfbfbf"},
            "gridWidth": {"condition": {"test": "datum.value % 10 !== 0", "value": 2}, "value": 3}}},
        "color": {"field": "s", "type": "nominal", "scale": {"domain": ["SH20 #1", "SH20 #2", "SH20 #3"], "range": ["#000000", "#000000", "#808080"]}, "legend": {"symbolOffset": 32, "labelExpr": "datum.label + '\u00a0\u00a0'"}},
        "strokeDash": {"field": "s", "type": "nominal", "scale": {"domain": ["SH20 #1", "SH20 #2", "SH20 #3"], "range": [[1, 0], [16, 9], [1, 0]]}},
        "strokeWidth": {"field": "s", "type": "nominal", "scale": {"domain": ["SH20 #1", "SH20 #2", "SH20 #3"], "range": [10, 7, 4.5]}},
        "order": {"value": null}
      }
    }
  ],
  "resolve": {
    "scale": {"color": "independent", "strokeDash": "independent", "strokeWidth": "independent"},
    "legend": {"color": "independent", "strokeDash": "independent", "strokeWidth": "independent"}
  },
  "config": {
    "view": {"stroke": null},
    "font": "Liberation Sans",
    "axis": {
      "labelFont": "Liberation Sans", "labelFontWeight": "bold", "labelFontSize": 57, "labelColor": "#000000",
      "titleFont": "Liberation Sans", "titleFontWeight": "bold", "titleColor": "#000000",
      "ticks": false, "tickSize": 0, "domainColor": "#bfbfbf", "domainWidth": 3,
      "labelOverlap": false, "labelFlush": false
    },
    "axisX": {"labelPadding": 25, "titlePadding": 62, "titleFontSize": 58},
    "axisY": {"labelPadding": 52, "titlePadding": 38, "titleFontSize": 71},
    "legend": {
      "orient": "top-right", "offset": 26, "title": null,
      "strokeColor": "#bfbfbf", "strokeWidth": 3, "fillColor": "#ffffff", "padding": 12,
      "labelFont": "Liberation Sans", "labelFontWeight": "bold", "labelFontSize": 55, "labelColor": "#000000", "labelLimit": 0,
      "labelOffset": 4, "symbolType": "stroke", "symbolSize": 6084, "rowPadding": 40
    },
    "title": {"font": "Liberation Serif", "fontSize": 70, "fontWeight": "normal", "color": "#000000", "orient": "bottom", "anchor": "middle", "frame": "bounds"}
  }
}
